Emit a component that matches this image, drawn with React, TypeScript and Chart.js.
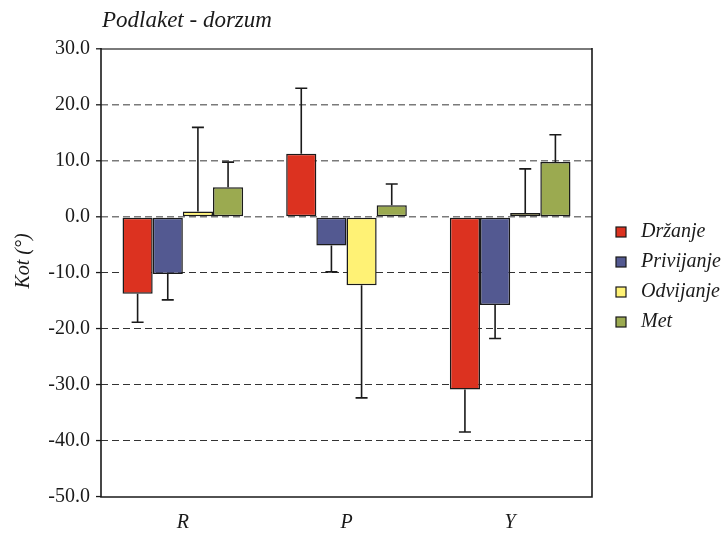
import React, { useEffect, useRef } from "react";
import { Chart, registerables } from "chart.js";

Chart.register(...registerables);

// Mean angle per motion and its standard deviation (one-sided error bars)
const categories = ["R", "P", "Y"];
const seriesNames = ["Držanje", "Privijanje", "Odvijanje", "Met"];
const drzanje = [-13.7, 11.3, -30.8];
const drzanjeSd = [5.1, 11.7, 7.6];
const privijanje = [-10.2, -5.1, -15.7];
const privijanjeSd = [4.6, 4.7, 6.0];
const odvijanje = [1.0, -12.2, 0.7];
const odvijanjeSd = [15.0, 20.1, 7.9];
const met = [5.3, 2.1, 9.8];
const metSd = [4.5, 3.8, 4.9];
const yTicks = [30, 20, 10, 0, -10, -20, -30, -40, -50];

const colors = ["#DC3220", "#535991", "#FFF275", "#9BAA50"];
const SERIF = "'Liberation Serif', 'Times New Roman', serif";

const chartTitle = "Podlaket - dorzum";
const yTitle = "Kot (°)";

const errorBars = {
  id: "errorBars",
  afterDatasetsDraw(chart: any) {
    const { ctx } = chart;
    const yScale = chart.scales.y;
    chart.data.datasets.forEach((ds: any, di: number) => {
      const meta = chart.getDatasetMeta(di);
      meta.data.forEach((bar: any, i: number) => {
        const v = ds.data[i];
        const sd = ds.sd[i];
        const end = yScale.getPixelForValue(v + (v >= 0 ? sd : -sd));
        ctx.save();
        ctx.strokeStyle = "#1a1a1a";
        ctx.lineWidth = 1.6;
        ctx.beginPath();
        ctx.moveTo(bar.x, bar.y);
        ctx.lineTo(bar.x, end);
        ctx.moveTo(bar.x - 6, end);
        ctx.lineTo(bar.x + 6, end);
        ctx.stroke();
        ctx.restore();
      });
    });
  },
};

const frame = {
  id: "frame",
  afterDraw(chart: any) {
    const { ctx, chartArea: a } = chart;
    ctx.save();
    // top edge
    ctx.strokeStyle = "#7a7a7a";
    ctx.lineWidth = 2;
    ctx.beginPath();
    ctx.moveTo(a.left, a.top);
    ctx.lineTo(a.right, a.top);
    ctx.stroke();
    // left, right and bottom edges
    ctx.strokeStyle = "#1a1a1a";
    ctx.lineWidth = 1.6;
    ctx.beginPath();
    ctx.moveTo(a.left, a.top - 1);
    ctx.lineTo(a.left, a.bottom);
    ctx.lineTo(a.right, a.bottom);
    ctx.lineTo(a.right, a.top - 1);
    ctx.stroke();

    // title
    ctx.fillStyle = "#1a1a1a";
    ctx.font = `italic 23px ${SERIF}`;
    ctx.textAlign = "left";
    ctx.textBaseline = "alphabetic";
    ctx.fillText(chartTitle, 102, 27);

    // y axis title
    ctx.save();
    ctx.translate(29, 261);
    ctx.rotate(-Math.PI / 2);
    ctx.textAlign = "center";
    ctx.font = `italic 20px ${SERIF}`;
    ctx.fillText(yTitle, 0, 0);
    ctx.restore();

    // legend
    ctx.font = `italic 20px ${SERIF}`;
    ctx.textBaseline = "middle";
    chart.data.datasets.forEach((ds: any, i: number) => {
      const cy = 232 + i * 30;
      ctx.fillStyle = colors[i];
      ctx.fillRect(616, cy - 5, 10, 10);
      ctx.strokeStyle = "#1a1a1a";
      ctx.lineWidth = 1.2;
      ctx.strokeRect(616, cy - 5, 10, 10);
      ctx.fillStyle = "#1a1a1a";
      ctx.fillText(ds.label, 641, cy);
    });
    ctx.restore();
  },
};

export default function App() {
  const ref = useRef<HTMLCanvasElement>(null);

  useEffect(() => {
    if (!ref.current) return;
    const series = [drzanje, privijanje, odvijanje, met];
    const sds = [drzanjeSd, privijanjeSd, odvijanjeSd, metSd];
    const chart = new Chart(ref.current, {
      type: "bar",
      data: {
        labels: categories,
        datasets: seriesNames.map((name, i) => ({
          label: name,
          data: series[i],
          sd: sds[i],
          backgroundColor: colors[i],
          borderColor: "#1a1a1a",
          borderWidth: 1.5,
          borderSkipped: false,
        })) as any,
      },
      options: {
        animation: false,
        responsive: false,
        events: [],
        layout: { padding: { top: 49, right: 133, left: 0, bottom: 0 } },
        plugins: {
          legend: { display: false },
          title: { display: false },
          tooltip: { enabled: false },
        },
        datasets: {
          bar: { categoryPercentage: 0.737, barPercentage: 1 },
        },
        scales: {
          x: {
            grid: { display: false, drawTicks: false },
            border: { display: false },
            ticks: {
              color: "#1a1a1a",
              padding: 14,
              font: { family: SERIF, size: 20, style: "italic" },
            },
            afterFit: (s: any) => {
              s.height = 36;
            },
          },
          y: {
            min: -50,
            max: 30,
            afterBuildTicks: (s: any) => {
              s.ticks = yTicks.map((v) => ({ value: v }));
            },
            grid: {
              color: (c: any) => {
                const v = c.tick?.value;
                if (v === 30 || v === -50) return "rgba(0,0,0,0)";
                return v >= 0 ? "#7a7a7a" : "#333333";
              },
              lineWidth: (c: any) => (c.tick?.value >= 0 ? 1.6 : 1.1),
              tickColor: "#1a1a1a",
              tickLength: 5,
              tickWidth: 1.3,
            },
            border: { display: false, dash: [7, 4] },
            ticks: {
              color: "#1a1a1a",
              padding: 6,
              font: { family: SERIF, size: 20 },
              callback: (v: any) => Number(v).toFixed(1),
            },
            afterFit: (s: any) => {
              s.width = 101;
            },
          },
        },
      },
      plugins: [errorBars, frame],
    });
    return () => chart.destroy();
  }, []);

  return (
    <div style={{ position: "absolute", left: 0, top: 0, width: 725, height: 533, background: "#fff" }}>
      <canvas ref={ref} width={725} height={533} style={{ display: "block" }} />
    </div>
  );
}
